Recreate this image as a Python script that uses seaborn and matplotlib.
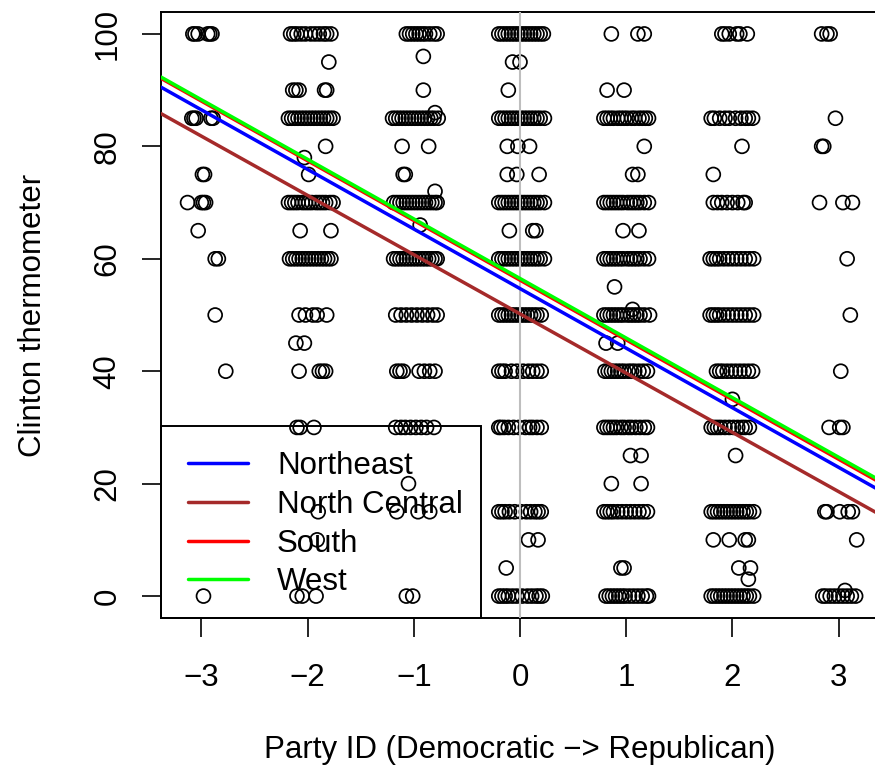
import matplotlib
matplotlib.use("Agg")
import matplotlib.pyplot as plt
from matplotlib.patches import Rectangle
import seaborn as sns
import pandas as pd

# ---------------- data ----------------
party_ids = [-3, -2, -1, 0, 1, 2, 3]

# thermometer value -> jitter offsets around the party id
pid_neg3 = {
    100: [-0.08, -0.06, -0.03, 0.06, 0.08, 0.10],
    85: [-0.09, -0.07, -0.05, 0.09, 0.11],
    75: [0.01, 0.03],
    70: [-0.13, 0.00, 0.02, 0.04],
    65: [-0.03],
    60: [0.13, 0.16],
    50: [0.13],
    40: [0.23],
    0: [0.02],
}
pid_neg2 = {
    100: [-0.16, -0.13, -0.10, -0.06, -0.02, 0.03, 0.07, 0.11, 0.15, 0.18, 0.22],
    95: [0.20],
    90: [-0.14, -0.11, -0.08, 0.16, 0.18],
    85: [-0.18, -0.15, -0.12, -0.09, -0.06, -0.03, 0.00, 0.03, 0.06, 0.09, 0.12, 0.15, 0.18, 0.21, 0.24],
    80: [0.17],
    78: [-0.03],
    75: [0.01],
    70: [-0.18, -0.15, -0.12, -0.09, -0.05, -0.02, 0.01, 0.04, 0.08, 0.11, 0.14, 0.17, 0.21, 0.24],
    65: [-0.07, 0.22],
    60: [-0.17, -0.14, -0.11, -0.08, -0.05, -0.02, 0.01, 0.04, 0.07, 0.10, 0.13, 0.16, 0.19, 0.22],
    50: [-0.08, -0.02, 0.05, 0.09, 0.18],
    45: [-0.11, -0.03],
    40: [-0.08, 0.11, 0.14, 0.17],
    30: [-0.10, -0.07, 0.06],
    15: [0.10],
    10: [0.09],
    0: [-0.10, -0.05, 0.08],
}
pid_neg1 = {
    100: [-0.07, -0.04, -0.01, 0.02, 0.05, 0.08, 0.11, 0.15, 0.19, 0.22],
    96: [0.09],
    90: [0.09],
    86: [0.20],
    85: [-0.20, -0.17, -0.14, -0.11, -0.08, -0.05, -0.02, 0.01, 0.04, 0.07, 0.10, 0.13, 0.16, 0.19, 0.23],
    80: [-0.11, 0.14],
    75: [-0.10, -0.08],
    72: [0.20],
    70: [-0.19, -0.16, -0.13, -0.10, -0.07, -0.04, -0.01, 0.02, 0.05, 0.08, 0.11, 0.14, 0.17, 0.20, 0.22],
    66: [0.06],
    60: [-0.19, -0.16, -0.13, -0.10, -0.07, -0.04, -0.01, 0.02, 0.05, 0.08, 0.11, 0.14, 0.17, 0.20, 0.22],
    50: [-0.17, -0.12, -0.07, -0.02, 0.03, 0.08, 0.13, 0.18, 0.22],
    40: [-0.16, -0.13, -0.10, 0.05, 0.10, 0.15, 0.20],
    30: [-0.17, -0.12, -0.08, -0.03, 0.02, 0.07, 0.12, 0.19],
    20: [-0.05],
    15: [-0.16, 0.04, 0.15],
    0: [-0.07, -0.01],
}
pid_0 = {
    100: [-0.20, -0.17, -0.14, -0.11, -0.08, -0.05, -0.02, 0.01, 0.04, 0.07, 0.10, 0.13, 0.16, 0.19, 0.22],
    95: [-0.07, 0.00],
    90: [-0.11],
    85: [-0.20, -0.17, -0.14, -0.11, -0.08, -0.05, -0.02, 0.01, 0.04, 0.07, 0.10, 0.13, 0.16, 0.19, 0.23],
    80: [-0.12, -0.02, 0.09],
    75: [-0.12, -0.03, 0.18],
    70: [-0.20, -0.17, -0.14, -0.11, -0.08, -0.05, -0.02, 0.01, 0.04, 0.07, 0.10, 0.13, 0.16, 0.19, 0.23],
    65: [-0.10, 0.12, 0.15],
    60: [-0.20, -0.17, -0.14, -0.11, -0.08, -0.05, -0.02, 0.01, 0.04, 0.07, 0.10, 0.13, 0.16, 0.19, 0.23],
    50: [-0.20, -0.17, -0.14, -0.11, -0.08, -0.05, -0.02, 0.01, 0.04, 0.07, 0.10, 0.13, 0.16, 0.20],
    40: [-0.20, -0.17, -0.14, -0.08, -0.03, 0.03, 0.08, 0.12, 0.16, 0.20],
    30: [-0.20, -0.18, -0.15, -0.11, -0.06, -0.01, 0.05, 0.09, 0.12, 0.16, 0.20],
    15: [-0.20, -0.17, -0.14, -0.10, -0.05, 0.01, 0.06, 0.10, 0.14, 0.17, 0.20],
    10: [0.08, 0.17],
    5: [-0.13],
    0: [-0.20, -0.17, -0.14, -0.11, -0.07, -0.03, 0.02, 0.07, 0.11, 0.15, 0.18, 0.21],
}
pid_1 = {
    100: [-0.14, 0.11, 0.17],
    90: [-0.18, -0.02],
    85: [-0.21, -0.18, -0.15, -0.12, -0.08, -0.05, -0.02, 0.01, 0.05, 0.08, 0.12, 0.15, 0.18, 0.21],
    80: [0.17],
    75: [0.06, 0.11],
    70: [-0.21, -0.18, -0.15, -0.12, -0.09, -0.06, -0.03, 0.01, 0.04, 0.07, 0.10, 0.13, 0.17, 0.21],
    65: [-0.03, 0.12],
    60: [-0.21, -0.18, -0.15, -0.12, -0.09, -0.06, -0.03, 0.01, 0.04, 0.07, 0.10, 0.13, 0.17, 0.21],
    55: [-0.11],
    51: [0.06],
    50: [-0.21, -0.18, -0.15, -0.12, -0.09, -0.06, -0.03, 0.01, 0.04, 0.07, 0.10, 0.13, 0.17, 0.22],
    45: [-0.19, -0.08],
    40: [-0.20, -0.17, -0.14, -0.11, -0.08, -0.05, -0.02, 0.02, 0.05, 0.08, 0.12, 0.16, 0.20],
    30: [-0.21, -0.18, -0.15, -0.12, -0.09, -0.05, -0.02, 0.02, 0.05, 0.09, 0.13, 0.17, 0.20],
    25: [0.04, 0.14],
    20: [-0.14, 0.14],
    15: [-0.21, -0.18, -0.15, -0.12, -0.08, -0.04, 0.00, 0.04, 0.08, 0.12, 0.16, 0.20],
    5: [-0.05, -0.02],
    0: [-0.19, -0.16, -0.13, -0.10, -0.07, -0.04, -0.01, 0.03, 0.07, 0.11, 0.15, 0.19, 0.21],
}
pid_2 = {
    100: [-0.10, -0.07, -0.03, 0.04, 0.07, 0.14],
    85: [-0.20, -0.17, -0.12, -0.07, -0.03, 0.03, 0.08, 0.12, 0.15, 0.19],
    80: [0.09],
    75: [-0.18],
    70: [-0.18, -0.14, -0.10, -0.05, 0.00, 0.05, 0.10, 0.12],
    60: [-0.21, -0.18, -0.15, -0.12, -0.08, -0.04, 0.00, 0.04, 0.08, 0.12, 0.16, 0.20],
    50: [-0.21, -0.18, -0.15, -0.12, -0.08, -0.04, 0.00, 0.04, 0.08, 0.12, 0.16, 0.20],
    40: [-0.15, -0.12, -0.09, -0.05, -0.01, 0.03, 0.07, 0.11, 0.15, 0.19],
    35: [0.00],
    30: [-0.20, -0.17, -0.14, -0.11, -0.07, -0.03, 0.01, 0.05, 0.09, 0.12, 0.16],
    25: [0.03],
    15: [-0.20, -0.17, -0.14, -0.11, -0.08, -0.05, -0.02, 0.01, 0.04, 0.07, 0.10, 0.13, 0.16, 0.20],
    10: [-0.18, -0.03, 0.12, 0.15],
    5: [0.06, 0.17],
    3: [0.15],
    0: [-0.20, -0.17, -0.14, -0.11, -0.08, -0.05, -0.02, 0.01, 0.04, 0.07, 0.10, 0.13, 0.16, 0.20],
}
pid_3 = {
    100: [-0.16, -0.11, -0.08],
    85: [-0.03],
    80: [-0.16, -0.14],
    70: [-0.18, 0.04, 0.13],
    60: [0.08],
    50: [0.11],
    40: [0.02],
    30: [-0.09, 0.01, 0.04],
    15: [-0.13, -0.11, 0.01, 0.09, 0.13],
    10: [0.17],
    1: [0.06],
    0: [-0.15, -0.12, -0.08, -0.04, 0.00, 0.04, 0.08, 0.12, 0.16],
}
columns = [pid_neg3, pid_neg2, pid_neg1, pid_0, pid_1, pid_2, pid_3]

# fitted lines per region
regions = ["Northeast", "North Central", "South", "West"]
intercepts = [54.7, 50.2, 56.2, 56.5]
slopes = [-10.6, -10.54, -10.62, -10.6]
line_colors = ["#0000FF", "#A52A2A", "#FF0000", "#00FF00"]

x_ticks = [-3, -2, -1, 0, 1, 2, 3]
y_ticks = [0, 20, 40, 60, 80, 100]

# ---------------- build table ----------------
rows = []
for pid, col in zip(party_ids, columns):
    for therm, offs in col.items():
        for d in offs:
            rows.append({"pid": pid + d, "therm": therm})
df = pd.DataFrame(rows)

# ---------------- plot ----------------
sns.set_style("ticks")
plt.rcParams["font.family"] = ["Liberation Sans", "DejaVu Sans"]
plt.rcParams["text.color"] = "black"
plt.rcParams["axes.labelcolor"] = "black"
plt.rcParams["xtick.color"] = "black"
plt.rcParams["ytick.color"] = "black"
FS = 22.5

W, H = 875, 772
fig = plt.figure(figsize=(W / 100, H / 100), dpi=100)
ax_l, ax_r, ax_t, ax_b = 161, 879, 12, 618
ax = fig.add_axes([ax_l / W, (H - ax_b) / H, (ax_r - ax_l) / W, (ax_b - ax_t) / H])

sns.scatterplot(data=df, x="pid", y="therm", ax=ax, marker="o", s=100,
                facecolor="none", edgecolor="black", linewidth=1.25, zorder=2)

ax.axvline(0, color="#BEBEBE", lw=1.5, zorder=3)

for r, b, m, c in zip(regions, intercepts, slopes, line_colors):
    ax.axline((0, b), slope=m, color=c, lw=2.5, zorder=4, label=r)

ax.set_xlim(-3.38, 3.38)
ax.set_ylim(-3.9, 103.9)
ax.set_xticks(x_ticks)
ax.set_yticks(y_ticks)
ax.tick_params(axis="both", direction="out", length=13.7, width=1.2,
               labelsize=FS, colors="black", labelcolor="black")
ax.tick_params(axis="x", pad=19)
ax.tick_params(axis="y", pad=14)
for lab in ax.get_yticklabels():
    lab.set_rotation(90)
    lab.set_va("center")
    lab.set_ha("right")
for s in ax.spines.values():
    s.set_visible(True)
    s.set_linewidth(1.4)
    s.set_color("black")

ax.set_xlabel("Party ID (Democratic \u2212> Republican)", fontsize=FS, color="black")
ax.set_ylabel("Clinton thermometer", fontsize=FS, color="black")
ax.xaxis.set_label_coords(0.5, -0.193)
ax.yaxis.set_label_coords(-0.158, 0.5)

aw, ah = ax_r - ax_l, ax_b - ax_t
leg = ax.legend(loc="upper left", bbox_to_anchor=((188 - ax_l) / aw, (ax_b - 451) / ah),
                frameon=False, fontsize=FS, borderpad=0, borderaxespad=0,
                handlelength=1.92, handletextpad=0.93, labelspacing=0.28)
for t in leg.get_texts():
    t.set_color("black")
leg.set_zorder(6)
ax.add_patch(Rectangle((0, 0), (481 - ax_l) / aw, (ax_b - 426) / ah,
                       transform=ax.transAxes, fill=False, lw=1.4,
                       edgecolor="black", zorder=5, clip_on=False))

fig.savefig("out.png", dpi=100)
